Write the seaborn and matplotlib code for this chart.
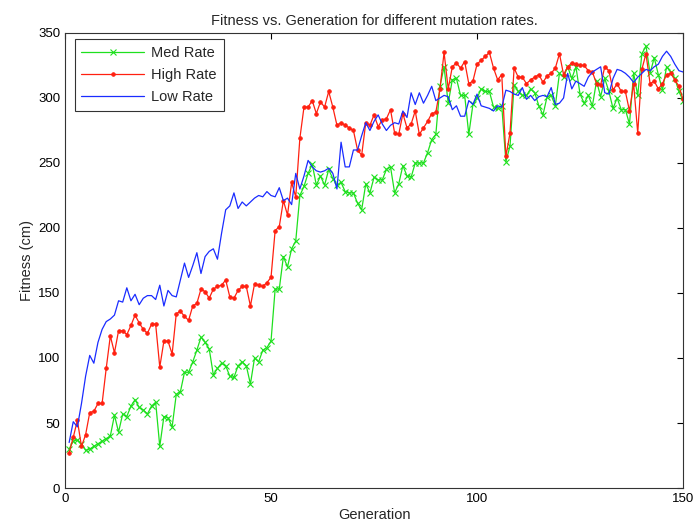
import numpy as np
import pandas as pd
import matplotlib
matplotlib.use("Agg")
import matplotlib.pyplot as plt
import seaborn as sns

# Best fitness per generation for three mutation rates
generations = list(range(1, 151))

med_rate = [30, 36, 37, 34, 29, 30, 32, 34, 36, 38,
            40, 56, 43, 57, 55, 63, 68, 62, 60, 57,
            63, 66, 32, 55, 54, 47, 72, 74, 89, 89,
            97, 106, 116, 112, 107, 87, 92, 96, 94, 86,
            85, 94, 97, 94, 80, 100, 97, 106, 108, 113,
            153, 153, 178, 170, 184, 190, 225, 232, 242, 249,
            233, 240, 233, 245, 238, 233, 235, 228, 227, 227,
            219, 214, 234, 227, 239, 237, 237, 245, 247, 227,
            234, 248, 240, 239, 250, 250, 250, 258, 268, 272,
            309, 324, 296, 314, 315, 302, 302, 272, 295, 300,
            307, 305, 305, 293, 292, 294, 251, 263, 310, 305,
            302, 302, 307, 304, 294, 287, 301, 302, 294, 319,
            316, 324, 315, 324, 303, 296, 302, 294, 313, 301,
            315, 305, 292, 300, 291, 291, 280, 319, 302, 334,
            340, 319, 331, 318, 306, 324, 320, 315, 305, 298]

high_rate = [27, 39, 52, 32, 41, 58, 59, 65, 65, 92,
             117, 104, 121, 121, 118, 125, 133, 127, 122, 119,
             126, 126, 93, 113, 113, 103, 134, 136, 132, 129,
             140, 142, 153, 151, 146, 153, 155, 156, 160, 147,
             146, 152, 155, 155, 140, 157, 156, 155, 158, 162,
             198, 201, 221, 210, 235, 224, 269, 293, 293, 298,
             288, 297, 293, 305, 293, 279, 281, 279, 277, 275,
             260, 256, 281, 279, 287, 278, 283, 284, 291, 273,
             272, 288, 277, 280, 290, 272, 277, 282, 288, 289,
             307, 335, 307, 324, 327, 323, 328, 311, 313, 326,
             329, 332, 335, 323, 314, 318, 255, 273, 323, 316,
             316, 311, 314, 316, 318, 312, 317, 319, 323, 334,
             318, 324, 327, 326, 325, 325, 321, 320, 311, 310,
             324, 321, 306, 311, 305, 305, 290, 311, 273, 322,
             334, 311, 313, 307, 311, 318, 319, 314, 309, 299]

low_rate = [35, 51, 47, 65, 86, 102, 96, 112, 122, 128,
            130, 133, 144, 143, 154, 144, 149, 141, 146, 148,
            148, 145, 156, 140, 152, 148, 147, 160, 173, 162,
            171, 181, 165, 178, 182, 184, 176, 196, 214, 217,
            227, 215, 220, 217, 220, 223, 225, 224, 228, 225,
            224, 231, 221, 223, 218, 242, 230, 240, 252, 247,
            244, 243, 244, 246, 242, 230, 266, 247, 247, 260,
            260, 271, 281, 275, 282, 287, 280, 275, 279, 281,
            280, 290, 285, 304, 295, 304, 296, 302, 309, 298,
            300, 302, 301, 291, 294, 286, 286, 298, 295, 303,
            294, 293, 292, 290, 294, 293, 306, 305, 303, 302,
            308, 299, 302, 298, 301, 302, 301, 308, 295, 296,
            300, 319, 307, 313, 311, 309, 316, 320, 322, 324,
            304, 303, 315, 322, 321, 319, 316, 312, 316, 319,
            322, 321, 324, 326, 332, 336, 332, 326, 321, 320]

series_names = ["Med Rate", "High Rate", "Low Rate"]
x_ticks = [0, 50, 100, 150]
y_ticks = [0, 50, 100, 150, 200, 250, 300, 350]

sns.set_style("white")
plt.rcParams["font.family"] = ["Liberation Sans", "DejaVu Sans"]
plt.rcParams["font.size"] = 9

fig = plt.figure(figsize=(6.96, 5.27), dpi=100)
ax = fig.add_axes([0.0934, 0.074, 0.888, 0.8634])

styles = {
    "Med Rate": dict(data=med_rate, color="#1ee01e", marker="x", ms=4, mew=0.8),
    "High Rate": dict(data=high_rate, color="#ff2010", marker="o", ms=2.6, mew=0.6),
    "Low Rate": dict(data=low_rate, color="#1a2cff", marker=None, ms=0, mew=0),
}

for name in series_names:
    s = styles[name]
    df = pd.DataFrame({"Generation": generations, "Fitness": s["data"]})
    sns.lineplot(data=df, x="Generation", y="Fitness", ax=ax, color=s["color"],
                 marker=s["marker"], markersize=s["ms"], markeredgewidth=s["mew"],
                 markeredgecolor=s["color"], linewidth=0.9, label=name,
                 estimator=None, errorbar=None)

ax.set_xlim(0, 150)
ax.set_ylim(0, 350)
ax.set_xticks(x_ticks)
ax.set_yticks(y_ticks)
ax.tick_params(direction="in", top=True, right=True, length=4, width=0.8,
               colors="black", labelsize=9.5)
for sp in ax.spines.values():
    sp.set_visible(True)
    sp.set_color("#333333")
    sp.set_linewidth(0.8)

ax.set_xlabel("Generation", fontsize=10.5, labelpad=2)
ax.set_ylabel("Fitness (cm)", fontsize=10.5, labelpad=3)
ax.set_title("Fitness vs. Generation for different mutation rates.", fontsize=10.5, pad=6)

leg = ax.legend(loc="upper left", bbox_to_anchor=(0.016, 0.986), frameon=True,
                fancybox=False, shadow=False, fontsize=10.5, handlelength=4.3,
                borderpad=0.45, labelspacing=0.55, handletextpad=0.5,
                borderaxespad=0.0)
leg.get_frame().set_edgecolor("black")
leg.get_frame().set_linewidth(0.8)

fig.savefig("out.png", dpi=100, facecolor="white")
